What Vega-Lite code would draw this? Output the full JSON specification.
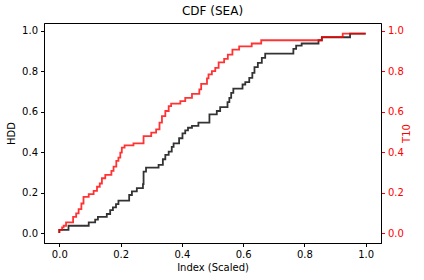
{
  "$schema": "https://vega.github.io/schema/vega-lite/v6.json",
  "width": 337,
  "height": 220,
  "autosize": {"type": "none"},
  "padding": {"left": 44, "top": 23, "right": 43, "bottom": 37},
  "title": {"text": "CDF (SEA)", "fontSize": 12, "font": "DejaVu Sans", "fontWeight": "normal", "offset": 5, "color": "#000000"},
  "config": {
    "view": {"stroke": "#000000", "strokeWidth": 1},
    "axis": {
      "labelFont": "DejaVu Sans", "labelFontSize": 10, "labelColor": "#000000",
      "titleFont": "DejaVu Sans", "titleFontSize": 10, "titleFontWeight": "normal", "titleColor": "#000000",
      "tickSize": 3.5, "tickColor": "#000000", "domainColor": "#000000", "labelPadding": 3, "grid": false
    }
  },
  "datasets": {
    "hdd": [
      {"x": 0, "y": 0}, {"x": 0, "y": 0.015}, {"x": 0.030, "y": 0.036}, {"x": 0.096, "y": 0.053}, {"x": 0.117, "y": 0.066},
      {"x": 0.126, "y": 0.08}, {"x": 0.155, "y": 0.094}, {"x": 0.166, "y": 0.113}, {"x": 0.175, "y": 0.127},
      {"x": 0.185, "y": 0.143}, {"x": 0.193, "y": 0.16}, {"x": 0.228, "y": 0.188}, {"x": 0.237, "y": 0.206},
      {"x": 0.253, "y": 0.222}, {"x": 0.273, "y": 0.242}, {"x": 0.275, "y": 0.304}, {"x": 0.283, "y": 0.324},
      {"x": 0.324, "y": 0.337}, {"x": 0.338, "y": 0.365}, {"x": 0.346, "y": 0.387}, {"x": 0.357, "y": 0.403},
      {"x": 0.367, "y": 0.426}, {"x": 0.373, "y": 0.444}, {"x": 0.391, "y": 0.469}, {"x": 0.402, "y": 0.493},
      {"x": 0.411, "y": 0.508}, {"x": 0.420, "y": 0.521}, {"x": 0.433, "y": 0.53}, {"x": 0.454, "y": 0.546},
      {"x": 0.490, "y": 0.587}, {"x": 0.514, "y": 0.604}, {"x": 0.525, "y": 0.623}, {"x": 0.549, "y": 0.648},
      {"x": 0.555, "y": 0.669}, {"x": 0.561, "y": 0.694}, {"x": 0.568, "y": 0.715}, {"x": 0.598, "y": 0.735},
      {"x": 0.607, "y": 0.747}, {"x": 0.620, "y": 0.768}, {"x": 0.630, "y": 0.793}, {"x": 0.637, "y": 0.821},
      {"x": 0.648, "y": 0.842}, {"x": 0.661, "y": 0.867}, {"x": 0.672, "y": 0.888}, {"x": 0.764, "y": 0.911},
      {"x": 0.773, "y": 0.928}, {"x": 0.791, "y": 0.938}, {"x": 0.846, "y": 0.954}, {"x": 0.857, "y": 0.969},
      {"x": 0.949, "y": 0.987}, {"x": 1.0, "y": 0.987}
    ],
    "t10": [
      {"x": 0, "y": 0}, {"x": 0, "y": 0.015}, {"x": 0.009, "y": 0.028}, {"x": 0.014, "y": 0.036}, {"x": 0.022, "y": 0.053},
      {"x": 0.045, "y": 0.08}, {"x": 0.055, "y": 0.097}, {"x": 0.063, "y": 0.118}, {"x": 0.072, "y": 0.146},
      {"x": 0.079, "y": 0.179}, {"x": 0.096, "y": 0.192}, {"x": 0.112, "y": 0.209}, {"x": 0.123, "y": 0.229},
      {"x": 0.132, "y": 0.245}, {"x": 0.139, "y": 0.271}, {"x": 0.150, "y": 0.288}, {"x": 0.170, "y": 0.308},
      {"x": 0.177, "y": 0.329}, {"x": 0.186, "y": 0.357}, {"x": 0.193, "y": 0.373}, {"x": 0.199, "y": 0.398},
      {"x": 0.204, "y": 0.423}, {"x": 0.213, "y": 0.434}, {"x": 0.242, "y": 0.444}, {"x": 0.275, "y": 0.48},
      {"x": 0.300, "y": 0.497}, {"x": 0.316, "y": 0.513}, {"x": 0.327, "y": 0.546}, {"x": 0.335, "y": 0.579},
      {"x": 0.346, "y": 0.604}, {"x": 0.357, "y": 0.628}, {"x": 0.365, "y": 0.64}, {"x": 0.395, "y": 0.653},
      {"x": 0.411, "y": 0.669}, {"x": 0.433, "y": 0.689}, {"x": 0.457, "y": 0.711}, {"x": 0.463, "y": 0.738},
      {"x": 0.482, "y": 0.765}, {"x": 0.487, "y": 0.785}, {"x": 0.498, "y": 0.801}, {"x": 0.509, "y": 0.817},
      {"x": 0.520, "y": 0.845}, {"x": 0.538, "y": 0.862}, {"x": 0.550, "y": 0.883}, {"x": 0.565, "y": 0.908},
      {"x": 0.587, "y": 0.924}, {"x": 0.628, "y": 0.938}, {"x": 0.659, "y": 0.954}, {"x": 0.857, "y": 0.970},
      {"x": 0.925, "y": 0.987}, {"x": 1.0, "y": 0.987}
    ]
  },
  "layer": [
    {
      "data": {"name": "hdd"},
      "mark": {"type": "line", "interpolate": "step-after", "color": "#000000", "opacity": 0.8, "strokeWidth": 1.8},
      "encoding": {
        "x": {"field": "x", "type": "quantitative", "title": "Index (Scaled)",
              "scale": {"domain": [-0.05, 1.05], "nice": false, "zero": false},
              "axis": {"values": [0, 0.2, 0.4, 0.6, 0.8, 1.0], "format": ".1f", "titlePadding": 3}},
        "y": {"field": "y", "type": "quantitative", "title": "HDD",
              "scale": {"domain": [-0.0495, 1.0395], "nice": false, "zero": false},
              "axis": {"values": [0, 0.2, 0.4, 0.6, 0.8, 1.0], "format": ".1f", "titlePadding": 5}},
        "order": {"value": null}
      }
    },
    {
      "data": {"name": "t10"},
      "mark": {"type": "line", "interpolate": "step-after", "color": "#ff0000", "opacity": 0.8, "strokeWidth": 1.8},
      "encoding": {
        "x": {"field": "x", "type": "quantitative"},
        "y": {"field": "y", "type": "quantitative", "title": "T10",
              "scale": {"domain": [-0.0495, 1.0395], "nice": false, "zero": false},
              "axis": {"orient": "right", "values": [0, 0.2, 0.4, 0.6, 0.8, 1.0], "format": ".1f",
                       "labelColor": "#ff0000", "tickColor": "#ff0000", "titleColor": "#ff0000",
                       "domainColor": "#000000", "titleAngle": 270, "titlePadding": 8}},
        "order": {"value": null}
      }
    }
  ],
  "resolve": {"scale": {"y": "independent"}}
}
